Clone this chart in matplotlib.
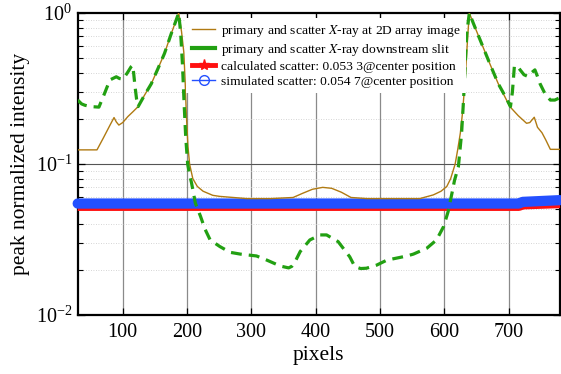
import numpy as np
import matplotlib
matplotlib.use("Agg")
import matplotlib.pyplot as plt
from matplotlib.lines import Line2D
from matplotlib.ticker import LogLocator, NullFormatter, FixedLocator

plt.rcParams['font.family'] = ['Liberation Serif', 'DejaVu Serif']
plt.rcParams['mathtext.fontset'] = 'stix'

# ---- data ----
image_x = [30, 60, 70, 80, 86.5, 90, 94, 100, 108, 116, 124, 134, 144.5, 155, 165, 175.5,
           182, 187, 191.5, 195, 197, 199, 201.5, 204, 209, 216, 225, 240, 251, 293, 330,
           365, 380, 395, 411, 425, 440, 455, 480, 520, 562, 583, 595, 604, 610, 617, 621,
           625, 628, 630, 632.5, 635, 637, 639, 645, 656, 671, 684, 702, 715, 728, 733,
           740, 745, 752, 758, 765, 780]
image_y = [0.124, 0.124, 0.149, 0.180, 0.203, 0.190, 0.181, 0.188, 0.206, 0.222, 0.240,
           0.286, 0.340, 0.430, 0.540, 0.730, 0.870, 1.000, 0.750, 0.550, 0.360, 0.210,
           0.130, 0.100, 0.080, 0.071, 0.066, 0.062, 0.061, 0.059, 0.059, 0.060, 0.064,
           0.068, 0.070, 0.069, 0.065, 0.060, 0.059, 0.059, 0.059, 0.0624, 0.066, 0.071,
           0.080, 0.100, 0.125, 0.160, 0.210, 0.265, 0.360, 0.550, 0.750, 1.000, 0.860,
           0.660, 0.460, 0.340, 0.240, 0.209, 0.186, 0.188, 0.204, 0.175, 0.161, 0.144,
           0.125, 0.125]

slit_x = [30, 36, 41, 50, 63, 72, 80, 90, 95, 100.5, 107, 113, 115.5, 117, 119, 121.5,
          124, 134, 144.5, 155, 165, 175.5, 182, 187, 190, 193, 195.5, 198, 201, 204,
          207, 213, 221, 228, 236, 251, 267, 283, 308, 324, 345, 358, 363, 368, 376,
          391, 407, 417, 435, 453, 461, 470, 479, 495, 511, 530, 542, 552, 573, 588,
          599, 606, 612, 616, 622, 627, 630, 632.5, 635, 639, 645, 656, 671, 684, 695,
          703, 706, 709, 713, 718, 724, 730, 735, 741, 745, 749, 757, 765, 772, 780]
slit_y = [0.265, 0.250, 0.245, 0.240, 0.238, 0.295, 0.360, 0.378, 0.368, 0.365, 0.400,
          0.440, 0.450, 0.400, 0.330, 0.270, 0.240, 0.286, 0.340, 0.430, 0.540, 0.730,
          0.870, 1.000, 0.750, 0.450, 0.250, 0.150, 0.100, 0.085, 0.075, 0.055, 0.045,
          0.037, 0.0314, 0.0284, 0.026, 0.0253, 0.0246, 0.0231, 0.0211, 0.0205, 0.021,
          0.0225, 0.0263, 0.0314, 0.0339, 0.0339, 0.0306, 0.0243, 0.0209, 0.0203, 0.0204,
          0.0214, 0.0231, 0.0240, 0.0246, 0.0253, 0.0277, 0.0314, 0.0385, 0.0483, 0.064,
          0.078, 0.096, 0.160, 0.265, 0.440, 0.730, 1.000, 0.860, 0.660, 0.460, 0.340,
          0.280, 0.240, 0.300, 0.440, 0.450, 0.420, 0.390, 0.380, 0.400, 0.420, 0.380,
          0.340, 0.290, 0.265, 0.265, 0.275]

calc_x = [30, 716, 722, 780]
calc_y = [0.0533, 0.0533, 0.0545, 0.0556]

sim_x = [30, 716, 722, 780]
sim_y = [0.0547, 0.0547, 0.0561, 0.0576]

x_ticks = [100, 200, 300, 400, 500, 600, 700]

labels = ['primary and scatter $\\mathit{X}$-ray at 2D array image',
          'primary and scatter $\\mathit{X}$-ray downstream slit',
          'calculated scatter: 0.053 3@center position',
          'simulated scatter: 0.054 7@center position']

c_brown = '#b07a12'
c_green = '#22a012'
c_red = '#ff1010'
c_blue = '#2450ff'

fig = plt.figure(figsize=(5.61, 3.74), dpi=100)
ax = fig.add_axes([0.1385, 0.1578, 0.8597, 0.8075])

ax.set_yscale('log')
ax.set_xlim(30, 780)
ax.set_ylim(0.01, 1.0)

# grid
ax.xaxis.set_major_locator(FixedLocator(x_ticks))
for xv in x_ticks:
    ax.axvline(xv, color='#8a8a8a', lw=0.9, zorder=0.5)
ax.axhline(0.1, color='#555555', lw=0.8, zorder=0.5)
ax.yaxis.set_minor_locator(LogLocator(base=10, subs=np.arange(2, 10)))
ax.yaxis.set_minor_formatter(NullFormatter())
ax.grid(which='minor', axis='y', color='#c8c8c8', lw=0.6, ls=(0, (1, 2)), zorder=0.4)

ax.plot(calc_x, calc_y, color=c_red, lw=8.2, solid_capstyle='butt', zorder=3, clip_on=False)
ax.plot(sim_x, sim_y, color=c_blue, lw=7.4, solid_capstyle='round', zorder=4, clip_on=False)
ax.plot(image_x, image_y, color=c_brown, lw=1.0, zorder=5)
ax.plot(slit_x, slit_y, color=c_green, lw=2.3, dashes=(3.4, 2.2), zorder=6)

ax.tick_params(axis='both', which='both', direction='in', top=True, right=True,
               labelsize=14.5)
ax.tick_params(which='major', length=5, width=0.9)
ax.tick_params(which='minor', length=3.5, width=0.8)
ax.tick_params(axis='x', which='minor', bottom=False, top=False)
ax.tick_params(axis='x', pad=6)
ax.tick_params(axis='y', pad=4)
for s in ax.spines.values():
    s.set_linewidth(1.6)

ax.set_xlabel('pixels', fontsize=15.5, labelpad=3)
ax.set_ylabel('peak normalized intensity', fontsize=15.5, labelpad=4)

handles = [Line2D([], [], color=c_brown, lw=1.0),
           Line2D([], [], color=c_green, lw=3.0),
           Line2D([], [], color=c_red, lw=3.5, marker='*', markersize=8),
           Line2D([], [], color=c_blue, lw=1.0, marker='o', markersize=7,
                  markerfacecolor='none', markeredgewidth=1.0)]
leg = ax.legend(handles, labels, loc='upper left', bbox_to_anchor=(0.2254, 0.985),
                borderaxespad=0, fontsize=9.7, frameon=True, framealpha=1,
                facecolor='white', edgecolor='none', fancybox=False,
                handlelength=1.75, handletextpad=0.4, labelspacing=0.2,
                borderpad=0.4)
leg.set_zorder(10)

fig.savefig('out.png', dpi=100)
